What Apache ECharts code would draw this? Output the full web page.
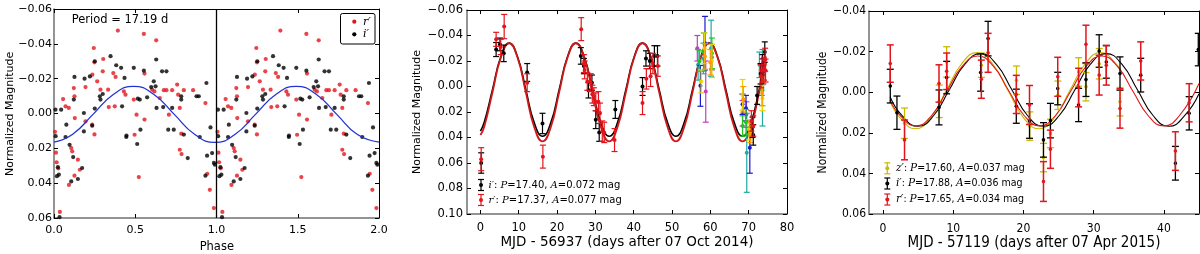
<!DOCTYPE html>
<html><head><meta charset="utf-8">
<script src="https://cdn.jsdelivr.net/npm/echarts@6/dist/echarts.min.js"></script>
<style>html,body{margin:0;padding:0;background:#fff}#c{width:1200px;height:254px}</style>
</head><body><div id="c"></div>
<script>
// ---------- Panel 1: phase-folded photometry (phase 0-1; plotted twice) ----------
const p1Red = [[0.006,0.0105],[0.012,0.0225],[0.016,0.0280],[0.026,0.0315],[0.036,0.0565],
[0.056,-0.0083],[0.071,-0.0041],[0.091,-0.0032],[0.106,0.0198],[0.112,0.0217],[0.092,0.0410],[0.126,0.0357],[0.147,0.0265],[0.159,0.0323],
[0.122,-0.0146],[0.126,-0.0099],[0.128,0.0026],[0.194,-0.0152],[0.194,0.0045],[0.235,0.0064],[0.249,0.0120],
[0.245,-0.0376],[0.249,-0.0294],[0.236,-0.0223],[0.266,-0.0185],[0.286,-0.0137],[0.303,-0.0313],[0.300,-0.0242],
[0.333,-0.0137],[0.337,-0.0037],[0.365,-0.0232],[0.379,-0.0210],[0.374,-0.0041],[0.393,-0.0476],
[0.430,-0.0127],[0.440,-0.0108],[0.491,-0.0080],[0.496,0.0122],[0.508,0.0007],[0.522,0.0365],
[0.553,-0.0457],[0.557,-0.0229],[0.557,0.0035],[0.604,-0.0137],[0.618,-0.0127],[0.629,-0.0420],[0.651,-0.0089],
[0.676,-0.0134],[0.692,-0.0134],[0.707,0.0007],[0.727,-0.0134],[0.758,-0.0166],[0.764,-0.0108],[0.774,-0.0032],
[0.774,0.0208],[0.785,0.0233],[0.783,0.0116],[0.799,-0.0134],[0.856,-0.0134],[0.932,-0.0060],
[0.943,0.0346],[0.959,0.0438],[0.984,0.0543]];
const p1Black = [[0.009,-0.0022],[0.044,-0.0022],[0.010,0.0130],[0.018,0.0360],[0.024,0.0308],[0.030,0.0351],[0.034,0.0595],
[0.071,0.0135],[0.076,0.0064],[0.096,0.0180],[0.106,0.0390],[0.118,0.0250],[0.147,0.0376],[0.173,0.0313],
[0.122,-0.0080],[0.126,-0.0210],[0.184,-0.0003],[0.184,0.0103],[0.188,-0.0200],[0.221,-0.0213],[0.235,0.0070],
[0.251,-0.0300],[0.251,-0.0028],[0.282,-0.0099],[0.286,-0.0080],[0.300,-0.0112],[0.348,-0.0329],[0.383,-0.0277],
[0.413,-0.0262],[0.419,-0.0041],[0.434,-0.0204],[0.445,0.0135],[0.446,0.0127],[0.491,-0.0262],[0.512,0.0175],
[0.516,-0.0085],[0.528,-0.0080],[0.532,0.0093],[0.553,-0.0246],[0.573,-0.0093],[0.598,-0.0152],[0.614,-0.0185],
[0.625,-0.0156],[0.629,-0.0310],[0.631,-0.0032],[0.665,-0.0242],[0.672,-0.0037],[0.692,-0.0242],[0.703,0.0093],
[0.727,-0.0032],[0.737,0.0093],[0.783,-0.0099],[0.783,-0.0080],[0.799,0.0121],[0.823,0.0256],[0.877,-0.0099],
[0.891,-0.0099],[0.897,0.0135],[0.932,0.0357],[0.938,-0.0175],[0.942,0.0242],[0.963,0.0080],[0.973,0.0227],
[0.984,0.0284],[0.990,0.0294]];
const p1Fit = [[0,0.0165],[0.115,0.0119],[0.24,0.0005],[0.365,-0.0109],[0.49,-0.0156],[0.615,-0.0109],[0.74,0.0005],[0.865,0.0119],[0.99,0.0166],[1.115,0.0119],[1.24,0.0005],[1.365,-0.0109],[1.49,-0.0156],[1.615,-0.0109],[1.74,0.0005],[1.865,0.0119],[2.0,0.0164]];
const p1XTicks = [0,0.5,1,1.5,2];
const p1YTicks = [-0.06,-0.04,-0.02,0,0.02,0.04,0.06];

// ---------- Panel 2: light curve Oct 2014 [day, mag, err] ----------
const p2Black = [[0.2,0.060,0.008],[4.1,-0.029,0.0055],[5.1,-0.033,0.005],[6.1,-0.026,0.0065],[12.2,-0.011,0.007],[16.2,0.029,0.008],
[26.2,-0.024,0.0065],[27.0,-0.016,0.006],[28.2,0.003,0.006],[29.1,-0.003,0.006],[30.1,0.026,0.007],[31.0,0.036,0.007],[35.2,0.018,0.007],
[42.3,0.000,0.007],[43.2,-0.022,0.006],[44.2,-0.020,0.006],[45.4,-0.024,0.008],[46.2,-0.024,0.008],
[71.0,0.032,0.008],[71.2,0.038,0.008],[72.2,0.007,0.007],[73.1,-0.010,0.008],[73.6,-0.017,0.008],[74.2,-0.027,0.008]];
const p2Red = [[0.2,0.057,0.009],[4.1,-0.037,0.0055],[5.3,-0.031,0.006],[6.2,-0.047,0.0095],[12.2,-0.003,0.007],[16.3,0.055,0.009],
[26.3,-0.045,0.009],[27.0,-0.018,0.007],[27.2,-0.013,0.007],[27.9,-0.004,0.007],[28.8,-0.003,0.007],[29.2,0.006,0.007],[29.6,0.008,0.007],
[30.1,0.012,0.007],[30.8,0.012,0.008],[31.2,0.021,0.008],[31.8,0.035,0.008],[32.3,0.036,0.008],[35.0,0.042,0.009],
[42.3,0.013,0.009],[43.3,-0.006,0.008],[44.4,-0.008,0.008],[45.0,-0.018,0.008],[46.3,-0.016,0.008],
[70.7,0.027,0.008],[71.2,0.031,0.008],[73.2,-0.008,0.009],[73.5,-0.0125,0.009],[74.0,-0.014,0.009],[74.3,-0.021,0.009],[74.4,-0.0125,0.009]];
const p2Blue = [[57.4,-0.0005,0.016],[58.6,-0.034,0.021],[68.4,0.014,0.008],[69.3,0.017,0.010],[70.3,0.048,0.020],[73.8,-0.012,0.010]];
const p2Green = [[57.2,-0.020,0.008],[58.3,-0.027,0.015],[60.4,-0.026,0.012],[68.4,0.031,0.008],[69.3,0.028,0.010],[73.6,0.003,0.012]];
const p2Magenta = [[56.6,-0.030,0.010],[58.8,0.004,0.024],[60.4,-0.023,0.010],[68.4,0.021,0.010],[69.4,0.022,0.010],[73.4,-0.003,0.010]];
const p2Cyan = [[56.8,-0.017,0.012],[58.2,-0.022,0.012],[60.2,-0.030,0.022],[69.5,0.052,0.031],[73.6,0.001,0.030],[72.8,-0.017,0.010]];
const p2Yellow = [[57.6,-0.004,0.009],[58.5,-0.030,0.012],[60.4,-0.020,0.013],[68.4,0.0065,0.012],[70.1,0.034,0.008],[73.6,0.009,0.010]];
const p2Orange = [[58.6,-0.0235,0.010],[60.0,-0.019,0.010],[68.6,0.010,0.010],[70.5,0.036,0.008],[73.5,0.005,0.010]];
const p2FitBlack = [[0,0.0350],[0.98,0.0283],[3.15,0.0025],[5.33,-0.0233],[7.5,-0.0340],[9.68,-0.0233],[11.85,0.0025],[14.03,0.0283],[16.2,0.0390],[18.38,0.0283],[20.55,0.0025],[22.73,-0.0233],[24.9,-0.0340],[27.08,-0.0233],[29.25,0.0025],[31.43,0.0283],[33.6,0.0390],[35.78,0.0283],[37.95,0.0025],[40.13,-0.0233],[42.3,-0.0340],[44.48,-0.0233],[46.65,0.0025],[48.83,0.0283],[51.0,0.0390],[53.18,0.0283],[55.35,0.0025],[57.53,-0.0233],[59.7,-0.0340],[61.88,-0.0233],[64.05,0.0025],[66.23,0.0283],[68.4,0.0390],[70.58,0.0283],[72.75,0.0025],[74.5,-0.0190]];
const p2FitRed = [[0,0.0380],[0.98,0.0317],[3.15,0.0045],[5.33,-0.0227],[7.5,-0.0340],[9.68,-0.0227],[11.85,0.0045],[14.03,0.0317],[16.2,0.0430],[18.38,0.0317],[20.55,0.0045],[22.73,-0.0227],[24.9,-0.0340],[27.08,-0.0227],[29.25,0.0045],[31.43,0.0317],[33.6,0.0430],[35.78,0.0317],[37.95,0.0045],[40.13,-0.0227],[42.3,-0.0340],[44.48,-0.0227],[46.65,0.0045],[48.83,0.0317],[51.0,0.0430],[53.18,0.0317],[55.35,0.0045],[57.53,-0.0227],[59.7,-0.0340],[61.88,-0.0227],[64.05,0.0045],[66.23,0.0317],[68.4,0.0430],[70.58,0.0317],[72.75,0.0045],[74.5,-0.0180]];
const p2XTicks = [0,10,20,30,40,50,60,70,80];
const p2YTicks = [-0.06,-0.04,-0.02,0,0.02,0.04,0.06,0.08,0.10];

// ---------- Panel 3: light curve Apr 2015 [day, mag, err] ----------
const p3Yellow = [[3.06,0.0153,0.0075],[8.0,0.0045,0.008],[9.06,-0.0149,0.0075],[14.0,-0.0133,0.006],[19.0,-0.0059,0.007],[20.9,0.0167,0.007],[22.85,0.0322,0.007],[23.84,0.0203,0.007],[24.9,0.0015,0.007],[27.85,-0.010,0.007],[28.9,-0.0027,0.007],[30.8,-0.014,0.0075],[33.75,0.0047,0.007]];
const p3Black = [[1.03,-0.003,0.0083],[1.98,0.0101,0.0082],[7.97,0.0075,0.0086],[9.06,-0.0072,0.008],[13.9,-0.0097,0.0092],[14.96,-0.0264,0.0085],[18.98,0.0069,0.0084],[20.86,0.0142,0.0085],[22.85,0.0235,0.0085],[23.84,0.014,0.0085],[24.88,-0.0018,0.008],[27.85,0.0063,0.0082],[28.9,-0.0062,0.0083],[30.78,-0.0203,0.008],[31.8,-0.0149,0.008],[33.75,-0.0092,0.0082],[36.7,-0.0084,0.0083],[41.64,0.035,0.0083],[43.6,0.0104,0.0082],[44.9,-0.021,0.008]];
const p3Red = [[1.03,-0.0141,0.0092],[3.06,0.0235,0.0098],[7.97,-0.0043,0.0092],[9.06,-0.0103,0.009],[14.0,-0.0064,0.0094],[14.96,-0.0194,0.0096],[18.98,0.0011,0.0094],[20.86,0.0063,0.0096],[22.85,0.044,0.0098],[23.84,0.0281,0.0094],[24.88,-0.0076,0.0096],[27.85,-0.0023,0.0095],[28.9,-0.0236,0.0094],[30.78,-0.0084,0.0098],[31.8,-0.0133,0.0098],[33.75,0.008,0.0097],[36.7,-0.0154,0.0094],[41.64,0.029,0.0095],[43.6,0.0052,0.0094]];
const p3FitYellow = [[1.0,0.0045],[2.4,0.0125],[4.6,0.0180],[6.8,0.0125],[9.0,-0.0008],[11.2,-0.0140],[13.4,-0.0195],[15.6,-0.0140],[17.8,-0.0008],[20.0,0.0125],[22.2,0.0180],[24.4,0.0125],[26.6,-0.0008],[28.8,-0.0140],[31.0,-0.0195],[33.2,-0.0140],[34.0,-0.0097]];
const p3FitBlack = [[1.0,0.0022],[2.72,0.0116],[4.95,0.0168],[7.19,0.0116],[9.42,-0.0011],[11.66,-0.0138],[13.9,-0.0190],[16.13,-0.0138],[18.37,-0.0011],[20.6,0.0116],[22.84,0.0168],[25.07,0.0116],[27.31,-0.0011],[29.54,-0.0138],[31.78,-0.0190],[34.01,-0.0138],[36.25,-0.0011],[38.48,0.0116],[40.72,0.0168],[42.95,0.0116],[45.0,0.0008]];
const p3FitRed = [[1.0,0.0039],[2.47,0.0116],[4.68,0.0166],[6.89,0.0116],[9.09,-0.0006],[11.3,-0.0128],[13.5,-0.0178],[15.71,-0.0128],[17.92,-0.0006],[20.12,0.0116],[22.33,0.0166],[24.54,0.0116],[26.74,-0.0006],[28.95,-0.0128],[31.15,-0.0178],[33.36,-0.0128],[35.57,-0.0006],[37.77,0.0116],[39.98,0.0166],[42.19,0.0116],[45.0,-0.0043]];
const p3XTicks = [0,10,20,30,40];
const p3YTicks = [-0.04,-0.02,0,0.02,0.04,0.06];

// ---------- helpers ----------
const FONT = 'DejaVu Sans', COND = 'DejaVu Sans Condensed';
const RED = '#e3151c', BLK = '#000000', BLUE = '#2233d6', YEL = '#c9bb00';
function fmt2(v){ if (Math.abs(v) < 1e-9) return '0.00'; return v < 0 ? '\u2212' + (-v).toFixed(2) : v.toFixed(2); }
function fmt1(v){ return v.toFixed(1); }
function fmt0(v){ return String(Math.round(v)); }

function xAxes(grid, min, max, ticks, fmt, fontSize, fontFamily, margin){
  return [
    {type:'value', gridIndex:grid, min:min, max:max, position:'bottom',
     axisLine:{show:true, onZero:false, lineStyle:{color:'#707070', width:1.5}},
     axisTick:{show:true, inside:true, length:4, customValues:ticks, lineStyle:{color:'#000', width:1}},
     axisLabel:{show:true, customValues:ticks, formatter:fmt, fontSize:fontSize, fontFamily:fontFamily, color:'#000', margin:margin},
     splitLine:{show:false}},
    {type:'value', gridIndex:grid, min:min, max:max, position:'top',
     axisLine:{show:true, onZero:false, lineStyle:{color:'#000', width:1}},
     axisTick:{show:true, inside:true, length:4, customValues:ticks, lineStyle:{color:'#000', width:1}},
     axisLabel:{show:false, customValues:ticks}, splitLine:{show:false}}
  ];
}
function yAxes(grid, min, max, ticks, fmt, fontSize, fontFamily, margin){
  return [
    {type:'value', gridIndex:grid, min:min, max:max, inverse:true, position:'left',
     axisLine:{show:true, onZero:false, lineStyle:{color:'#707070', width:1.5}},
     axisTick:{show:true, inside:true, length:4, customValues:ticks, lineStyle:{color:'#000', width:1}},
     axisLabel:{show:true, customValues:ticks, formatter:fmt, fontSize:fontSize, fontFamily:fontFamily, color:'#000', margin:margin},
     splitLine:{show:false}},
    {type:'value', gridIndex:grid, min:min, max:max, inverse:true, position:'right',
     axisLine:{show:true, onZero:false, lineStyle:{color:'#000', width:1}},
     axisTick:{show:true, inside:true, length:4, customValues:ticks, lineStyle:{color:'#000', width:1}},
     axisLabel:{show:false, customValues:ticks}, splitLine:{show:false}}
  ];
}
function ebRender(color, capW, lw, r){
  return function(params, api){
    const x = api.value(0), y = api.value(1), e = api.value(2);
    const c = api.coord([x, y]), t = api.coord([x, y - e]), b = api.coord([x, y + e]);
    const st = {stroke:color, lineWidth:lw};
    return {type:'group', children:[
      {type:'line', shape:{x1:c[0], y1:t[1], x2:c[0], y2:b[1]}, style:st},
      {type:'line', shape:{x1:c[0]-capW, y1:t[1], x2:c[0]+capW, y2:t[1]}, style:st},
      {type:'line', shape:{x1:c[0]-capW, y1:b[1], x2:c[0]+capW, y2:b[1]}, style:st},
      {type:'circle', shape:{cx:c[0], cy:c[1], r:r}, style:{fill:color}}
    ]};
  };
}
function ebSeries(data, xi, color, capW, lw, r, z){
  return {type:'custom', xAxisIndex:xi, yAxisIndex:xi, data:data, encode:{x:0, y:1},
          renderItem:ebRender(color, capW, lw, r), clip:true, z:z, silent:true};
}
function fitSeries(data, xi, color, w, z){
  return {type:'line', xAxisIndex:xi, yAxisIndex:xi, data:data, smooth:0.5, showSymbol:false, symbol:'none',
          lineStyle:{color:color, width:w}, z:z, silent:true};
}
function legSym(x, y, color, h){
  const st = {stroke:color, lineWidth:1.2};
  return {type:'group', z:100, children:[
    {type:'line', shape:{x1:x, y1:y-h, x2:x, y2:y+h}, style:st},
    {type:'line', shape:{x1:x-3, y1:y-h, x2:x+3, y2:y-h}, style:st},
    {type:'line', shape:{x1:x-3, y1:y+h, x2:x+3, y2:y+h}, style:st},
    {type:'circle', shape:{cx:x, cy:y, r:2}, style:{fill:color}}
  ]};
}
const ITAL = {fontFamily:'DejaVu Serif', fontStyle:'italic'};
function legText(x, y, txt, size, fam){
  return {type:'text', x:x, y:y, z:100, style:{text:txt, fontSize:size, fontFamily:fam, fill:'#000',
          align:'left', verticalAlign:'middle',
          rich:{it:Object.assign({fontSize:size, fill:'#000'}, ITAL), n:{fontSize:size, fontFamily:fam, fill:'#000'}}}};
}
function title(x, y, txt, size, fam, rot){
  return {type:'text', x:x, y:y, rotation:rot||0, z:100,
          style:{text:txt, fontSize:size, fontFamily:fam, fill:'#000', align:'center', verticalAlign:'middle'}};
}

const p1RedAll = p1Red.concat(p1Red.map(d => [d[0] + 1, d[1]]));
const p1BlackAll = p1Black.concat(p1Black.map(d => [d[0] + 1, d[1]]));

const option = {
  animation:false,
  backgroundColor:'#fff',
  textStyle:{fontFamily:FONT},
  grid:[
    {left:54, top:9, width:325, height:209},
    {left:467, top:10, width:320, height:204},
    {left:869, top:11, width:330, height:203}
  ],
  xAxis:[].concat(
    xAxes(0, 0, 2, p1XTicks, fmt1, 11, FONT, 7),
    xAxes(1, -3.5, 80, p2XTicks, fmt0, 11.5, FONT, 8),
    xAxes(2, -2, 45, p3XTicks, fmt0, 12, COND, 9)
  ),
  yAxis:[].concat(
    yAxes(0, -0.06, 0.06, p1YTicks, fmt2, 11, FONT, 2),
    yAxes(1, -0.06, 0.10, p2YTicks, fmt2, 11.5, FONT, 4),
    yAxes(2, -0.04, 0.06, p3YTicks, fmt2, 12, COND, 3)
  ),
  series:[
    // panel 1
    {type:'scatter', xAxisIndex:0, yAxisIndex:0, data:p1RedAll, symbol:'circle', symbolSize:4.2,
     itemStyle:{color:RED}, z:2, silent:true,
     markLine:{silent:true, symbol:'none', animation:false, label:{show:false},
               lineStyle:{color:'#000', width:1.3, type:'solid'}, data:[{xAxis:1}]}},
    {type:'scatter', xAxisIndex:0, yAxisIndex:0, data:p1BlackAll, symbol:'circle', symbolSize:4.2,
     itemStyle:{color:BLK}, z:3, silent:true},
    fitSeries(p1Fit, 0, BLUE, 1.3, 4),
    // panel 2
    fitSeries(p2FitBlack, 2, BLK, 1.6, 2),
    fitSeries(p2FitRed, 2, '#d01818', 1.8, 2),
    ebSeries(p2Magenta, 2, '#c23fc2', 3, 1.2, 2, 3),
    ebSeries(p2Cyan, 2, '#20aaa0', 3, 1.2, 2, 3),
    ebSeries(p2Blue, 2, '#1a1ad0', 3, 1.2, 2, 3),
    ebSeries(p2Green, 2, '#22c422', 3, 1.2, 2, 3),
    ebSeries(p2Yellow, 2, '#e8d400', 3, 1.2, 2, 3),
    ebSeries(p2Orange, 2, '#ff9a00', 3, 1.2, 2, 3),
    ebSeries(p2Black, 2, BLK, 3, 1.2, 2, 4),
    ebSeries(p2Red, 2, RED, 3, 1.2, 2, 5),
    // panel 3
    fitSeries(p3FitYellow, 4, YEL, 1.1, 2),
    fitSeries(p3FitBlack, 4, BLK, 1.1, 2),
    fitSeries(p3FitRed, 4, '#e01818', 1.1, 2),
    ebSeries(p3Yellow, 4, YEL, 3.5, 1.3, 1.8, 3),
    ebSeries(p3Black, 4, BLK, 3.5, 1.3, 1.8, 4),
    ebSeries(p3Red, 4, RED, 3.5, 1.5, 1.8, 5)
  ],
  graphic:[
    // axis titles
    title(10, 113.8, 'Normalized Magnitude', 11, FONT, Math.PI/2),
    title(216.8, 247, 'Phase', 11.5, FONT),
    title(417, 112, 'Normalized Magnitude', 11, FONT, Math.PI/2),
    title(627, 242, 'MJD - 56937 (days after 07 Oct 2014)', 13.5, FONT),
    title(823, 112.5, 'Normalized Magnitude', 12, COND, Math.PI/2),
    title(1034, 243.5, 'MJD - 57119 (days after 07 Apr 2015)', 15, COND),
    // panel 1 annotations
    {type:'text', x:71.7, y:20, z:100, style:{text:'Period = 17.19 d', fontSize:11.5, fontFamily:FONT, fill:'#000', align:'left', verticalAlign:'middle'}},
    {type:'rect', z:100, shape:{x:340.5, y:13.5, width:34.5, height:30.5, r:2}, style:{fill:'#fff', stroke:'#000', lineWidth:1}},
    {type:'circle', z:101, shape:{cx:354.3, cy:21.7, r:2.1}, style:{fill:RED}},
    {type:'circle', z:101, shape:{cx:354.3, cy:34.3, r:2.1}, style:{fill:BLK}},
    {type:'text', x:363, y:21.7, z:101, style:{text:'r\u2032', fontSize:11, fontFamily:'DejaVu Serif', fontStyle:'italic', fill:'#000', align:'left', verticalAlign:'middle'}},
    {type:'text', x:363, y:34.3, z:101, style:{text:'i\u2032', fontSize:11, fontFamily:'DejaVu Serif', fontStyle:'italic', fill:'#000', align:'left', verticalAlign:'middle'}},
    // panel 2 legend
    legSym(481, 185, BLK, 5.5),
    legText(488.5, 185, '{it|i\u2032}{n|: }{it|P}{n|=17.40, }{it|A}{n|=0.072 mag}', 10, FONT),
    legSym(481, 200, RED, 5.5),
    legText(488.5, 200, '{it|r\u2032}{n|: }{it|P}{n|=17.37, }{it|A}{n|=0.077 mag}', 10, FONT),
    // panel 3 legend
    legSym(887.3, 168.3, YEL, 5.5),
    legText(896, 168.3, '{it|z\u2032}{n|: }{it|P}{n|=17.60, }{it|A}{n|=0.037 mag}', 10.5, COND),
    legSym(887.3, 183.5, BLK, 5.5),
    legText(896, 183.5, '{it|i\u2032}{n|: }{it|P}{n|=17.88, }{it|A}{n|=0.036 mag}', 10.5, COND),
    legSym(887.3, 199.5, RED, 5.5),
    legText(896, 199.5, '{it|r\u2032}{n|: }{it|P}{n|=17.65, }{it|A}{n|=0.034 mag}', 10.5, COND)
  ]
};
const chart = echarts.init(document.getElementById('c'), null, {renderer:'canvas'});
chart.setOption(option);
</script></body></html>
